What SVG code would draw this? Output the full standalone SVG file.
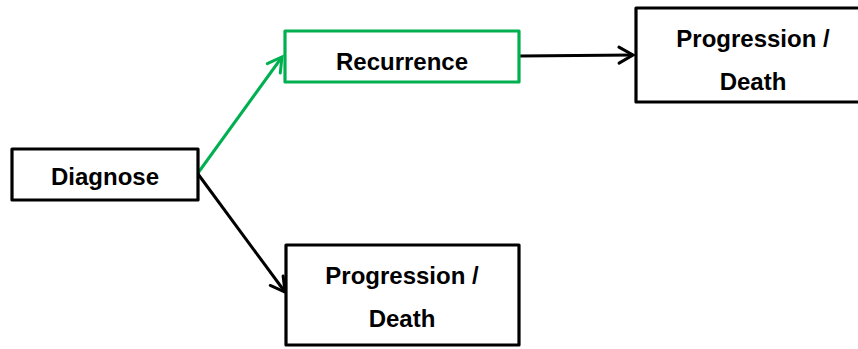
<svg xmlns="http://www.w3.org/2000/svg" width="858" height="349" viewBox="0 0 858 349">
  <style>
    .box { fill: #ffffff; stroke: #000000; stroke-width: 3.2; stroke-linejoin: round; }
    .box.green { stroke: #00B050; }
    .label { font-family: "Liberation Sans", Arial, sans-serif; font-weight: bold; font-size: 24px; fill: #000000; text-anchor: middle; }
    .edge { fill: none; stroke: #000000; stroke-width: 3; }
    .edge.green { stroke: #00B050; }
  </style>
  <defs>
    <marker id="arrow-black" markerUnits="userSpaceOnUse" markerWidth="20" markerHeight="20" refX="16" refY="9" orient="auto" overflow="visible">
      <path d="M2,1 L16,9 L2,17" fill="none" stroke="#000000" stroke-width="3" stroke-linecap="round" stroke-linejoin="miter"/>
    </marker>
    <marker id="arrow-green" markerUnits="userSpaceOnUse" markerWidth="20" markerHeight="20" refX="16" refY="9" orient="auto" overflow="visible">
      <path d="M2,1 L16,9 L2,17" fill="none" stroke="#00B050" stroke-width="3" stroke-linecap="round" stroke-linejoin="miter"/>
    </marker>
  </defs>

  <rect width="858" height="349" fill="#ffffff"/>

  <g id="connectors">
    <line class="edge green" x1="198" y1="173" x2="282" y2="57" marker-end="url(#arrow-green)"/>
    <line class="edge" x1="520" y1="56" x2="633" y2="55" marker-end="url(#arrow-black)"/>
    <line class="edge" x1="198" y1="174" x2="285" y2="292" marker-end="url(#arrow-black)"/>
  </g>

  <g id="diagnose">
    <rect class="box" x="12" y="149" width="186" height="51"/>
    <text class="label" x="105" y="185">Diagnose</text>
  </g>

  <g id="recurrence">
    <rect class="box green" x="285" y="31" width="234" height="51"/>
    <text class="label" x="402" y="70">Recurrence</text>
  </g>

  <g id="progression-death-top">
    <rect class="box" x="636" y="8" width="234" height="94"/>
    <text class="label" x="753" y="47">Progression /</text>
    <text class="label" x="753" y="90">Death</text>
  </g>

  <g id="progression-death-bottom">
    <rect class="box" x="286" y="245" width="233" height="100"/>
    <text class="label" x="402" y="284">Progression /</text>
    <text class="label" x="402" y="327">Death</text>
  </g>
</svg>
